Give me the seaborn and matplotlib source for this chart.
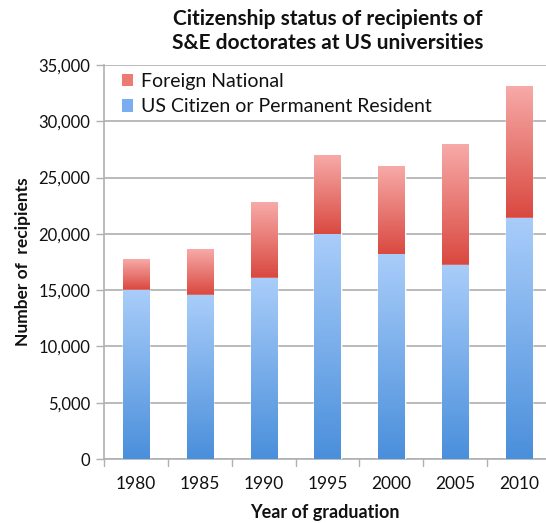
import numpy as np
import pandas as pd
import matplotlib
matplotlib.use("Agg")
import matplotlib.pyplot as plt
import seaborn as sns
from matplotlib.colors import LinearSegmentedColormap
from matplotlib.patches import Patch

years = ["1980", "1985", "1990", "1995", "2000", "2005", "2010"]
us_citizen = [15000, 14550, 16050, 19900, 18150, 17200, 21400]
foreign = [2700, 4050, 6700, 7100, 7850, 10700, 11650]
title = "Citizenship status of recipients of\nS&E doctorates at US universities"

total = [u + f for u, f in zip(us_citizen, foreign)]
df = pd.DataFrame({"year": years, "us": us_citizen, "total": total})

sns.set_theme(style="white")
plt.rcParams["font.family"] = ["Lato", "DejaVu Sans"]

fig = plt.figure(figsize=(5.46, 5.23), dpi=100)
ax = fig.add_axes([104 / 546, 1 - 459 / 523, 442 / 546, (459 - 65) / 523])

sns.barplot(data=df, x="year", y="total", color="#e0605a", width=0.41,
            saturation=1, ax=ax, zorder=2)
sns.barplot(data=df, x="year", y="us", color="#6fa8e8", width=0.41,
            saturation=1, ax=ax, zorder=3)

blue_cmap = LinearSegmentedColormap.from_list("b", ["#4a8fdb", "#a9cdfa"])
red_cmap = LinearSegmentedColormap.from_list("r", ["#d9483f", "#f7aaa8"])
grad = np.linspace(0, 1, 256).reshape(-1, 1)

n = len(years)
patches = list(ax.patches)
for i, p in enumerate(patches[:n]):
    x0 = p.get_x(); w = p.get_width()
    ax.imshow(grad, cmap=red_cmap, origin="lower", aspect="auto",
              extent=(x0, x0 + w, us_citizen[i], total[i]), zorder=2.5,
              interpolation="bilinear")
for i, p in enumerate(patches[n:2 * n]):
    x0 = p.get_x(); w = p.get_width()
    ax.imshow(grad, cmap=blue_cmap, origin="lower", aspect="auto",
              extent=(x0, x0 + w, 0, us_citizen[i]), zorder=3.5,
              interpolation="bilinear")

ax.set_xlim(-0.5, 6.42)
ax.set_ylim(0, 35000)
ax.set_yticks(np.arange(0, 35001, 5000))
ax.set_yticklabels([f"{v:,}" for v in range(0, 35001, 5000)], fontsize=12,
                   color="#111111")
ax.set_xticks(range(n))
ax.set_xticklabels(years, fontsize=12.5, color="#111111")
ax.tick_params(axis="x", length=0, pad=12)
ax.tick_params(axis="y", length=6, width=1, color="#b0b0b0", direction="out",
               left=True, pad=4)
for b in np.arange(0.5, 6.0, 1.0).tolist() + [-0.5]:
    ax.plot([b, b], [0, -600], color="#b0b0b0", lw=1, clip_on=False, zorder=1)

ax.grid(axis="y", color="#bababa", lw=1.4, zorder=0)
ax.set_axisbelow(True)
for s in ["top", "right"]:
    ax.spines[s].set_visible(False)
ax.spines["left"].set_color("#b0b0b0")
ax.spines["bottom"].set_color("#b0b0b0")
ax.spines["left"].set_linewidth(1.2)
ax.spines["bottom"].set_linewidth(1.2)

ax.set_xlabel("Year of graduation", fontsize=13, fontweight="bold",
              color="#111111", labelpad=9)
ax.set_ylabel("Number of  recipients", fontsize=12.5, fontweight="bold",
              color="#111111", labelpad=5)
fig.text(328 / 546, 1 - 31 / 523, title, ha="center", va="center",
         fontsize=15, fontweight="bold", color="#111111", linespacing=1.2)

handles = [Patch(facecolor="#ec7b74", edgecolor="none", label="Foreign National"),
           Patch(facecolor="#7aaef0", edgecolor="none",
                 label="US Citizen or Permanent Resident")]
leg = ax.legend(handles=handles, loc="upper left", bbox_to_anchor=(0.0, 1.025),
                frameon=False, fontsize=14, handlelength=0.6,
                handleheight=0.6, handletextpad=0.4, labelspacing=0.45)
for t in leg.get_texts():
    t.set_color("#111111")

fig.savefig("out.png", dpi=100)
